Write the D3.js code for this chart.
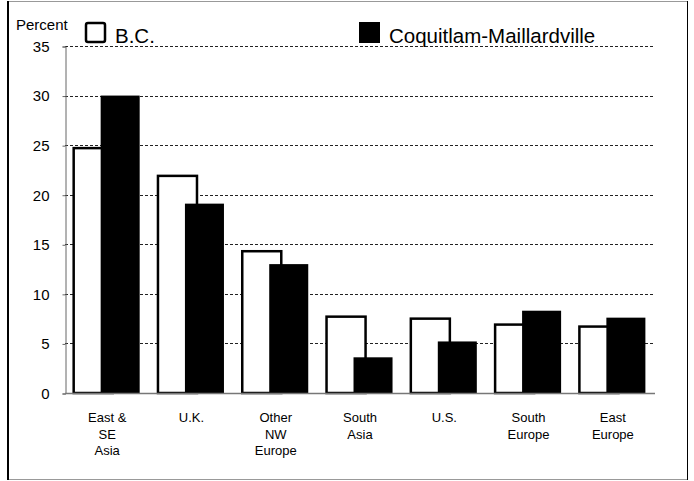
<!DOCTYPE html>
<html>
<head>
<meta charset="utf-8">
<script src="https://cdn.jsdelivr.net/npm/d3@7"></script>
<style>
  body { margin: 0; background: #fff; }
  svg { display: block; font-family: "Liberation Sans", Arial, sans-serif; }
</style>
</head>
<body>
<svg width="694" height="481"></svg>
<script>
// categories (multi-line labels)
var categories = ["East & SE Asia", "U.K.", "Other NW Europe", "South Asia", "U.S.", "South Europe", "East Europe"];
var categoryLines = [["East &", "SE", "Asia"], ["U.K."], ["Other", "NW", "Europe"], ["South", "Asia"], ["U.S."], ["South", "Europe"], ["East", "Europe"]];
var seriesNames = ["B.C.", "Coquitlam-Maillardville"];
var bcValues = [24.7, 21.9, 14.3, 7.7, 7.5, 6.9, 6.7];
var coqValues = [30.0, 19.1, 13.0, 3.6, 5.2, 8.3, 7.6];
var yTicks = [0, 5, 10, 15, 20, 25, 30, 35];

var svg = d3.select("svg");

// outer frame
svg.append("line").attr("x1", 7).attr("x2", 688).attr("y1", 1.5).attr("y2", 1.5).attr("stroke", "#999");
svg.append("line").attr("x1", 7).attr("x2", 688).attr("y1", 479.5).attr("y2", 479.5).attr("stroke", "#999");
svg.append("line").attr("x1", 8).attr("x2", 8).attr("y1", 1).attr("y2", 480).attr("stroke", "#000").attr("stroke-width", 2);
svg.append("line").attr("x1", 687.5).attr("x2", 687.5).attr("y1", 1).attr("y2", 480).attr("stroke", "#000");

var plotLeft = 65, plotRight = 655, plotTop = 46, plotBottom = 393;

var x = d3.scaleBand().domain(categories).range([plotLeft, plotRight]);
var y = d3.scaleLinear().domain([0, 35]).range([plotBottom, plotTop]);

var bw = x.bandwidth() * 0.463;
var off = x.bandwidth() * 0.32;
var startX = -x.bandwidth() * 0.397;

// dashed gridlines
svg.append("g").selectAll("line")
  .data(yTicks.filter(d => d > 0))
  .enter().append("line")
    .attr("x1", plotLeft).attr("x2", plotRight)
    .attr("y1", d => Math.round(y(d)) + 0.5).attr("y2", d => Math.round(y(d)) + 0.5)
    .attr("stroke", "#222").attr("stroke-dasharray", "3,2");

// y axis
var yAxis = svg.append("g")
  .attr("transform", "translate(" + (plotLeft + 0.5) + ",0.5)")
  .call(d3.axisLeft(y).tickValues(yTicks).tickSize(3).tickPadding(13));
yAxis.select(".domain").attr("stroke", "#666");
yAxis.selectAll(".tick line").attr("stroke", "#666");
yAxis.selectAll(".tick text")
  .attr("font-family", "Liberation Sans, Arial, sans-serif")
  .attr("font-size", 15).attr("fill", "#000");

// bars
var groups = svg.append("g").selectAll("g")
  .data(categories)
  .enter().append("g")
    .attr("transform", d => "translate(" + (x(d) + x.bandwidth() / 2) + ",0)");

groups.append("rect")
  .attr("x", startX)
  .attr("y", (d, i) => y(bcValues[i]))
  .attr("width", bw)
  .attr("height", (d, i) => y(0) - y(bcValues[i]))
  .attr("fill", "#fff").attr("stroke", "#000").attr("stroke-width", 2.5);

groups.append("rect")
  .attr("x", startX + off)
  .attr("y", (d, i) => y(coqValues[i]))
  .attr("width", bw)
  .attr("height", (d, i) => y(0) - y(coqValues[i]))
  .attr("fill", "#000");

// zero line
svg.append("line")
  .attr("x1", plotLeft).attr("x2", plotRight)
  .attr("y1", y(0) + 0.5).attr("y2", y(0) + 0.5)
  .attr("stroke", "#777").attr("stroke-width", 1.5);

// category labels
groups.each(function(d, i) {
  var t = d3.select(this).append("text")
    .attr("text-anchor", "middle")
    .attr("font-size", 13);
  categoryLines[i].forEach(function(line, j) {
    t.append("tspan").attr("x", 0).attr("y", 422 + j * 16.5).text(line);
  });
});

// y title
svg.append("text").attr("x", 16).attr("y", 30).attr("font-size", 15).text("Percent");

// legend
var legendX = [85, 359];
var legend = svg.append("g").selectAll("g")
  .data(seriesNames)
  .enter().append("g")
    .attr("transform", (d, i) => "translate(" + legendX[i] + ",0)");
legend.append("rect")
  .attr("x", (d, i) => i === 0 ? 1 : 0)
  .attr("y", (d, i) => i === 0 ? 23 : 22)
  .attr("width", (d, i) => i === 0 ? 19 : 21)
  .attr("height", (d, i) => i === 0 ? 19 : 21)
  .attr("rx", (d, i) => i === 0 ? 2 : 0)
  .attr("fill", (d, i) => i === 0 ? "#fff" : "#000")
  .attr("stroke", "#000")
  .attr("stroke-width", (d, i) => i === 0 ? 2.5 : 0);
legend.append("text")
  .attr("x", 30).attr("y", 43)
  .attr("font-size", 20.5)
  .text(d => d);
</script>
</body>
</html>
